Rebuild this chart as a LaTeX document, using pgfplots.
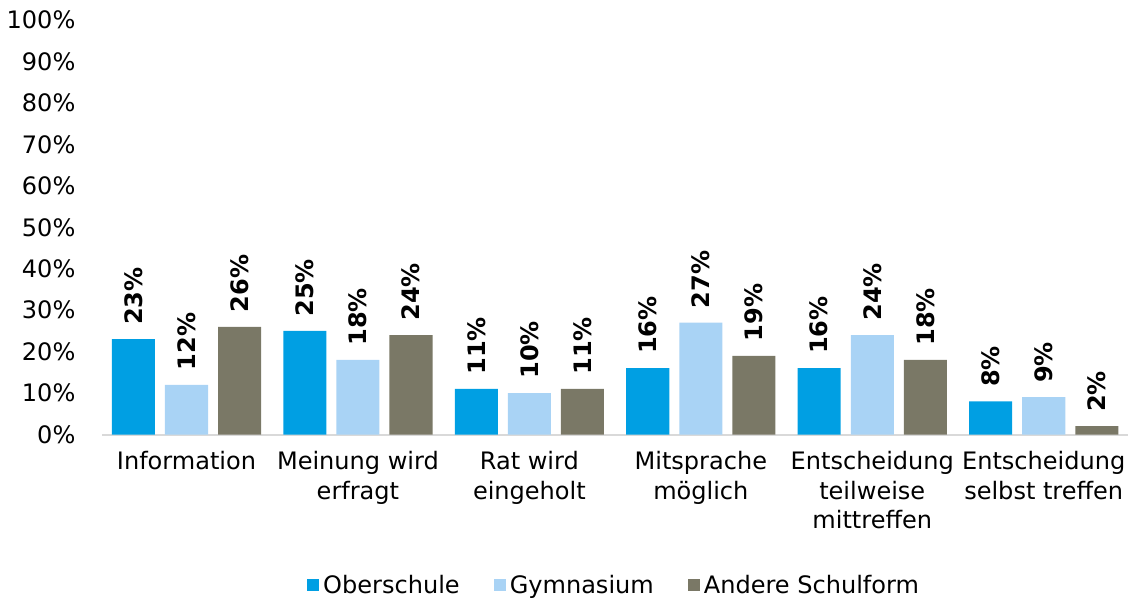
\documentclass[border=0pt]{standalone}
\usepackage{pgfplots}
\pgfplotsset{compat=1.18}
\usepackage{fontspec}
\setmainfont{DejaVu Sans}
\definecolor{ober}{HTML}{009FE3}
\definecolor{gym}{HTML}{A9D3F5}
\definecolor{andere}{HTML}{7A7866}
\definecolor{axgray}{HTML}{D9D9D9}

\begin{document}
\begin{tikzpicture}
\begin{axis}[
    scale only axis, width=512pt, height=207pt,
    ybar, bar width=21.5pt, ybar=5pt,
    xmin=-0.49, xmax=5.49, ymin=0, ymax=100,
    xtick={0,...,5},
    xticklabels={Information, Meinung wird\\erfragt, Rat wird\\eingeholt, Mitsprache\\möglich, Entscheidung\\teilweise\\mittreffen, Entscheidung\\selbst treffen},
    xticklabel style={align=center, yshift=-5pt},
    ytick={0,10,...,100},
    yticklabel={\pgfmathprintnumber{\tick}\%},
    yticklabel style={xshift=-10pt},
    /pgf/number format/assume math mode=true,
    axis x line*=bottom, axis y line*=left,
    x axis line style={axgray, line width=1pt, -},
    y axis line style={draw=none},
    major tick length=0pt,
    tick label style={font=\fontsize{12}{14.75}\selectfont},
    nodes near coords={\pgfmathprintnumber{\pgfplotspointmeta}\%},
    every node near coord/.append style={rotate=90, anchor=west, inner xsep=7pt, font=\fontsize{12}{14}\selectfont\bfseries, black},
    legend columns=3,
    legend style={at={(0.5,-0.318)}, anchor=north, draw=none, font=\fontsize{12}{14}\selectfont,
        /tikz/every even column/.append style={column sep=15pt}},
    legend image code/.code={\fill[#1] (0pt,-3pt) rectangle (6pt,3pt);},
]
\addplot[fill=ober, draw=none] coordinates {(0,23) (1,25) (2,11) (3,16) (4,16) (5,8)};
\addplot[fill=gym, draw=none] coordinates {(0,12) (1,18) (2,10) (3,27) (4,24) (5,9)};
\addplot[fill=andere, draw=none] coordinates {(0,26) (1,24) (2,11) (3,19) (4,18) (5,2)};
\legend{Oberschule, Gymnasium, Andere Schulform}
\end{axis}
\path (current axis.north) ++(0,10pt);
\end{tikzpicture}
\end{document}
